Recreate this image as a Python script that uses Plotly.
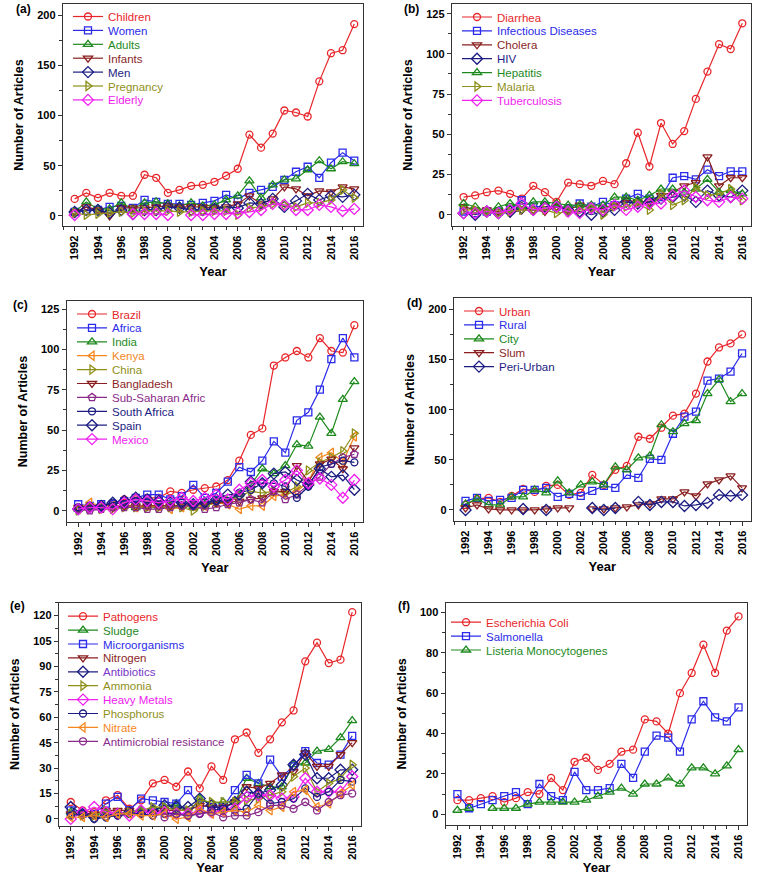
import plotly.graph_objects as go

W, H = 758, 875
years = list(range(1992, 2017))

# ---------------- panel (a) ----------------
children = [17, 23, 18, 23, 20, 20, 41, 38, 23, 26, 30, 31, 34, 40, 47, 81, 68, 82, 105, 103, 99, 134, 162, 165, 191]
women = [4, 5, 6, 9, 10, 8, 16, 14, 12, 12, 11, 13, 15, 21, 17, 23, 26, 29, 36, 44, 49, 38, 53, 63, 55]
adults = [4, 14, 7, 7, 13, 7, 13, 14, 12, 10, 13, 10, 11, 16, 20, 35, 18, 31, 36, 37, 46, 55, 47, 54, 52]
infants = [4, 9, 6, 0, 8, 8, 8, 9, 10, 9, 9, 9, 8, 9, 12, 20, 12, 17, 29, 27, 20, 25, 24, 29, 27]
men = [4, 6, 6, 3, 6, 2, 6, 6, 9, 8, 6, 6, 7, 9, 8, 13, 12, 17, 9, 15, 22, 16, 20, 19, 21]
pregnancy = [3, 1, 2, 3, 4, 3, 5, 5, 5, 4, 4, 5, 5, 5, 1, 8, 9, 12, 11, 9, 13, 13, 16, 26, 18]
elderly = [1, None, None, None, None, 2, 2, 2, 1, None, 1, 1, 2, 2, 3, 4, 6, 12, 11, 6, 6, 11, 9, 5, 7]

# ---------------- panel (b) ----------------
diarrhea = [11, 12, 14, 15, 13, 10, 18, 14, 8, 20, 19, 18, 21, 19, 32, 51, 30, 57, 44, 52, 72, 89, 106, 103, 119]
infectious = [2, 1, 2, 2, 3, 9, 5, 5, 5, 4, 7, 5, 8, 6, 10, 13, 10, 11, 23, 24, 22, 28, 24, 27, 27]
cholera = [5, 3, 3, 2, 1, 3, 3, 2, 5, 3, 6, 4, 4, 6, 9, 8, 8, 12, 14, 18, 20, 36, 18, 23, 23]
hiv = [1, 0, 2, 1, 2, 4, 3, 5, 5, 3, 2, 0, 2, 3, 8, 7, 8, 10, 11, 12, 8, 15, 12, 11, 15]
hepatitis = [7, 5, 2, 5, 7, 5, 8, 8, 7, 6, 6, 6, 6, 11, 11, 9, 12, 16, 16, 14, 16, 22, 14, 15, 13]
malaria = [3, 3, 2, 1, 2, 3, 3, 3, 1, 2, 3, 4, 0, 5, 5, 7, 3, 13, 6, 9, 17, 12, 13, 16, 9]
tuberculosis = [1, 1, 2, 1, 3, 7, 3, 4, 5, 2, 1, 4, 3, 6, 3, 5, 7, 7, 12, 15, 11, 9, 8, 11, 10]

# ---------------- panel (c) ----------------
brazil = [2, 3, 3, 4, 7, 7, 8, 8, 12, 11, 13, 14, 15, 19, 31, 47, 51, 90, 95, 99, 95, 107, 99, 98, 115]
africa = [4, 3, 4, 4, 6, 8, 10, 10, 7, 9, 16, 8, 11, 18, 27, 24, 31, 43, 36, 56, 61, 75, 94, 107, 95]
india = [1, 2, 2, 2, 3, 2, 3, 3, 3, 3, 2, 4, 6, 6, 10, 16, 26, 23, 28, 41, 40, 58, 48, 69, 80]
kenya = [1, 5, 3, 3, 3, 2, 3, 3, 1, 2, 3, 3, 5, 4, 1, 3, 3, 9, 10, 12, 18, 33, 36, 30, 46]
china = [0, 1, 1, 1, 2, 2, 2, 2, 2, 2, 0, 3, 5, 6, 9, 12, 11, 12, 11, 15, 25, 30, 33, 37, 48]
bangladesh = [2, 2, 2, 2, 3, 3, 3, 3, 3, 3, 4, 4, 5, 5, 6, 7, 8, 12, 12, 28, 18, 29, 32, 26, 39]
subsaharan = [1, 0, 1, 2, 2, 2, 1, 1, 2, 3, 3, 1, 2, 4, 5, 7, 5, 12, 7, 10, 16, 21, 29, 33, 35]
south_africa = [2, 3, 3, 5, 4, 6, 5, 6, 6, 5, 4, 5, 6, 6, 11, 13, 17, 17, 15, 8, 15, 27, 29, 31, 30]
spain = [1, 2, 3, 5, 6, 8, 7, 6, 6, 5, 4, 5, 7, 10, 10, 18, 17, 23, 24, 19, 16, 26, 21, 22, 13]
mexico = [1, 2, 2, 1, 5, 7, 6, 5, 6, 8, 6, 8, 10, 7, 13, 17, 19, 15, 19, 25, 17, 20, 16, 8, 19]

# ---------------- panel (d) ----------------
urban = [5, 11, 12, 8, 14, 21, 18, 24, 25, 15, 17, 35, 25, 40, 44, 73, 71, 82, 94, 96, 116, 148, 162, 166, 175]
rural = [9, 12, 9, 10, 12, 20, 20, 22, 13, 16, 14, 19, 24, 22, 35, 32, 51, 50, 76, 93, 98, 129, 131, 138, 156]
city = [6, 11, 5, 5, 13, 13, 20, 17, 29, 17, 25, 28, 25, 43, 40, 52, 54, 85, 78, 86, 89, 116, 130, 108, 116]
slum = [2, 5, 1, 0, 0, 0, 0, 1, 2, 2, None, 1, 1, 2, 3, 5, 6, 11, 11, 18, 14, 26, 30, 34, 22]
peri_urban = [0, None, None, None, None, 1, None, 0, None, None, None, 2, 0, 2, None, 8, 5, 8, 8, 4, 5, 7, 15, 14, 15]

# ---------------- panel (e) ----------------
pathogens = [10, 5, 4, 11, 14, 6, 11, 21, 23, 19, 28, 18, 31, 23, 47, 51, 39, 47, 57, 64, 93, 104, 92, 94, 122]
sludge = [4, 3, 2, 4, 3, 4, 4, 5, 7, 9, 3, 12, 9, 10, 10, 24, 21, 19, 19, 32, 33, 40, 41, 48, 58]
microorganisms = [5, 3, 3, 9, 13, 5, 12, 11, 10, 9, 17, 8, 7, 7, 17, 26, 21, 35, 25, 31, 40, 33, 32, 38, 49]
nitrogen = [3, 3, 3, 5, 5, 5, 4, 4, 5, 5, 5, 8, 7, 7, 10, 19, 18, 21, 26, 28, 39, 31, 31, 38, 45]
antibiotics = [7, 3, 1, 2, 3, 4, 4, 5, 8, 7, 7, 12, 8, 6, 10, 16, 15, 17, 20, 32, 38, 24, 24, 29, 29]
ammonia = [3, 2, 2, 5, 3, 4, 5, 7, 7, 5, 5, 11, 10, 10, 10, 11, 12, 14, 16, 25, 30, 16, 21, 24, 32]
heavy_metals = [0, 4, 7, 4, 3, 2, 5, 3, 4, 3, 3, 4, 4, 5, 6, 13, 14, 14, 12, 13, 24, 16, 16, 16, 25]
phosphorus = [2, 3, 0, 1, 2, 3, 3, 2, 3, 3, 2, 3, 5, 6, 5, 6, 15, 9, 10, 12, 18, 13, 16, 23, 22]
nitrate = [1, 1, 2, 1, 3, 3, 2, 2, 3, 0, 1, 6, 3, 4, 5, 4, 8, 5, 7, 16, 17, 7, 9, 15, 20]
antimicrobial = [None, None, None, None, None, None, None, None, 1, 3, 2, 3, 4, 1, 2, 2, 4, 8, 8, 6, 10, 5, 10, 14, 15]

# ---------------- panel (f) ----------------
ecoli = [7, 7, 8, 9, 6, 8, 11, 10, 18, 12, 26, 28, 22, 25, 31, 32, 47, 46, 40, 60, 70, 84, 70, 91, 98]
salmonella = [10, 3, 5, 7, 9, 11, 5, 15, 9, 7, 21, 12, 12, 13, 25, 18, 31, 39, 38, 31, 47, 56, 48, 46, 53]
listeria = [2, 3, None, 3, 3, 3, 5, 6, 6, 6, 6, 7, 9, 11, 13, 10, 15, 15, 18, 15, 23, 23, 20, 24, 32]

# colours
RED = '#E8262A'
BLUE = '#2B2BEA'
GREEN = '#1E8A1E'
WINE = '#8B1F1F'
NAVY = '#1C1C82'
OLIVE = '#8F8F1A'
MAGENTA = '#F020F0'
ORANGE = '#F5871F'
PURPLE = '#8A2A8A'
VIOLET = '#7A35C8'

FONT = 'Liberation Sans'

# series: (name, values, colour, symbol, legend-text colour)
panels = [
    dict(label='(a)', dtick=50, yr=[-10, 211],
         px=(63, 363), py=(4, 226), leg=(68, 2), lab=(23, 9),
         series=[('Children', children, RED, 'circle-open', RED),
                 ('Women', women, BLUE, 'square-open', BLUE),
                 ('Adults', adults, GREEN, 'triangle-up-open', GREEN),
                 ('Infants', infants, WINE, 'triangle-down-open', WINE),
                 ('Men', men, NAVY, 'diamond-open', NAVY),
                 ('Pregnancy', pregnancy, OLIVE, 'triangle-right-open', OLIVE),
                 ('Elderly', elderly, MAGENTA, 'diamond-open', MAGENTA)]),
    dict(label='(b)', dtick=25, yr=[-7, 131],
         px=(452, 751), py=(4, 226), leg=(457, 2.5), lab=(411, 9),
         series=[('Diarrhea', diarrhea, RED, 'circle-open', RED),
                 ('Infectious Diseases', infectious, BLUE, 'square-open', BLUE),
                 ('Cholera', cholera, WINE, 'triangle-down-open', WINE),
                 ('HIV', hiv, NAVY, 'diamond-open', NAVY),
                 ('Hepatitis', hepatitis, GREEN, 'triangle-up-open', GREEN),
                 ('Malaria', malaria, OLIVE, 'triangle-right-open', OLIVE),
                 ('Tuberculosis', tuberculosis, MAGENTA, 'diamond-open', MAGENTA)]),
    dict(label='(c)', dtick=25, yr=[-7, 130],
         px=(66.7, 363), py=(301, 522), leg=(72, 299.5), lab=(20, 305),
         series=[('Brazil', brazil, RED, 'circle-open', RED),
                 ('Africa', africa, BLUE, 'square-open', BLUE),
                 ('India', india, GREEN, 'triangle-up-open', GREEN),
                 ('Kenya', kenya, ORANGE, 'triangle-left-open', ORANGE),
                 ('China', china, OLIVE, 'triangle-right-open', OLIVE),
                 ('Bangladesh', bangladesh, WINE, 'triangle-down-open', WINE),
                 ('Sub-Saharan Afric', subsaharan, PURPLE, 'pentagon-open', PURPLE),
                 ('South Africa', south_africa, NAVY, 'circle-open', NAVY),
                 ('Spain', spain, NAVY, 'diamond-open', NAVY),
                 ('Mexico', mexico, MAGENTA, 'diamond-open', MAGENTA)]),
    dict(label='(d)', dtick=50, yr=[-11, 211],
         px=(454, 750.7), py=(298.3, 521), leg=(459, 296.5), lab=(414, 303),
         series=[('Urban', urban, RED, 'circle-open', RED),
                 ('Rural', rural, BLUE, 'square-open', BLUE),
                 ('City', city, GREEN, 'triangle-up-open', GREEN),
                 ('Slum', slum, WINE, 'triangle-down-open', WINE),
                 ('Peri-Urban', peri_urban, NAVY, 'diamond-open', NAVY)]),
    dict(label='(e)', dtick=15, yr=[-4, 127.6],
         px=(59, 361), py=(602.7, 825.7), leg=(63, 601.7), lab=(17, 606),
         series=[('Pathogens', pathogens, RED, 'circle-open', RED),
                 ('Sludge', sludge, GREEN, 'triangle-up-open', GREEN),
                 ('Microorganisms', microorganisms, BLUE, 'square-open', BLUE),
                 ('Nitrogen', nitrogen, WINE, 'triangle-down-open', WINE),
                 ('Antibiotics', antibiotics, NAVY, 'diamond-open', VIOLET),
                 ('Ammonia', ammonia, OLIVE, 'triangle-right-open', OLIVE),
                 ('Heavy Metals', heavy_metals, MAGENTA, 'diamond-open', MAGENTA),
                 ('Phosphorus', phosphorus, NAVY, 'circle-open', OLIVE),
                 ('Nitrate', nitrate, ORANGE, 'triangle-left-open', ORANGE),
                 ('Antimicrobial resistance', antimicrobial, PURPLE, 'circle-open', PURPLE)]),
    dict(label='(f)', dtick=20, yr=[-5.3, 104.8],
         px=(445.7, 747.3), py=(602.7, 825), leg=(446, 607.7), lab=(404, 606),
         series=[('Escherichia Coli', ecoli, RED, 'circle-open', RED),
                 ('Salmonella', salmonella, BLUE, 'square-open', BLUE),
                 ('Listeria Monocytogenes', listeria, GREEN, 'triangle-up-open', GREEN)]),
]

SYM_SIZE = {'circle-open': 7, 'square-open': 7, 'triangle-up-open': 8,
            'triangle-down-open': 8, 'triangle-left-open': 8, 'triangle-right-open': 8,
            'diamond-open': 8.5, 'pentagon-open': 8}

fig = go.Figure()
layout = dict(width=W, height=H, margin=dict(l=0, r=0, t=0, b=0),
              paper_bgcolor='white', plot_bgcolor='white', showlegend=True,
              font=dict(family=FONT, color='black'), annotations=[])

for i, p in enumerate(panels, start=1):
    sfx = '' if i == 1 else str(i)
    legname = 'legend' if i == 1 else f'legend{i}'
    for name, vals, col, sym, tcol in p['series']:
        fig.add_trace(go.Scatter(
            x=years, y=vals, mode='lines+markers',
            name=f'<span style="color:{tcol}">{name}</span>',
            line=dict(color=col, width=1.2),
            marker=dict(symbol=sym, size=SYM_SIZE[sym], color=col, line=dict(color=col, width=1.3)),
            connectgaps=False,
            xaxis='x' + sfx, yaxis='y' + sfx, legend=legname))
    x0, x1 = p['px']
    y0, y1 = p['py']
    axis_common = dict(showline=True, linecolor='#333333', linewidth=1.4, mirror=True,
                       showgrid=False, zeroline=False, ticks='outside', ticklen=4,
                       tickwidth=1.2, tickcolor='#333333',
                       tickfont=dict(family=FONT, size=11, color='black', weight='bold'))
    layout['xaxis' + sfx] = dict(
        axis_common, domain=[x0 / W, x1 / W], anchor='y' + sfx,
        range=[1991.0, 2016.75], tick0=1992, dtick=2, tickangle=-90,
        minor=dict(dtick=1, ticks='outside', ticklen=2.5, tickwidth=1, tickcolor='#333333'),
        title=dict(text='Year', standoff=7,
                   font=dict(family=FONT, size=13, color='black', weight='bold')))
    layout['yaxis' + sfx] = dict(
        axis_common, domain=[1 - y1 / H, 1 - y0 / H], anchor='x' + sfx,
        range=p['yr'], tick0=0, dtick=p['dtick'],
        minor=dict(dtick=p['dtick'] / 2, ticks='outside', ticklen=2.5, tickwidth=1, tickcolor='#333333'),
        title=dict(text='Number of Articles', standoff=10,
                   font=dict(family=FONT, size=12.5, color='black', weight='bold')))
    lx, ly = p['leg']
    layout[legname] = dict(x=lx / W, y=1 - ly / H, xanchor='left', yanchor='top',
                           bgcolor='rgba(0,0,0,0)', borderwidth=0,
                           font=dict(family=FONT, size=11.5))
    ax, ay = p['lab']
    layout['annotations'].append(dict(
        text=p['label'], xref='paper', yref='paper', x=ax / W, y=1 - ay / H,
        xanchor='center', yanchor='middle', showarrow=False,
        font=dict(family=FONT, size=12, color='black', weight='bold')))

fig.update_layout(**layout)

# page tweaks: no body margin, and tighter legend rows (as in the original figure)
post_js = """
document.body.style.margin = '0';
document.body.style.overflow = 'hidden';
var gd = document.getElementById('{plot_id}');
var F = 13.9 / 19.0;
gd.querySelectorAll('g.groups').forEach(function(grp) {
  var y0 = null;
  grp.querySelectorAll('g.traces').forEach(function(it) {
    var tr = it.getAttribute('transform') || '';
    var m = tr.match(/translate\\(\\s*([-\\d.e]+)[\\s,]+([-\\d.e]+)\\s*\\)/);
    if (!m) return;
    var x = parseFloat(m[1]), y = parseFloat(m[2]);
    if (y0 === null) y0 = y;
    it.setAttribute('transform', 'translate(' + x + ',' + (y0 + (y - y0) * F) + ')');
  });
});
"""

fig.write_html('out.html', config={'displayModeBar': False}, post_script=post_js)
